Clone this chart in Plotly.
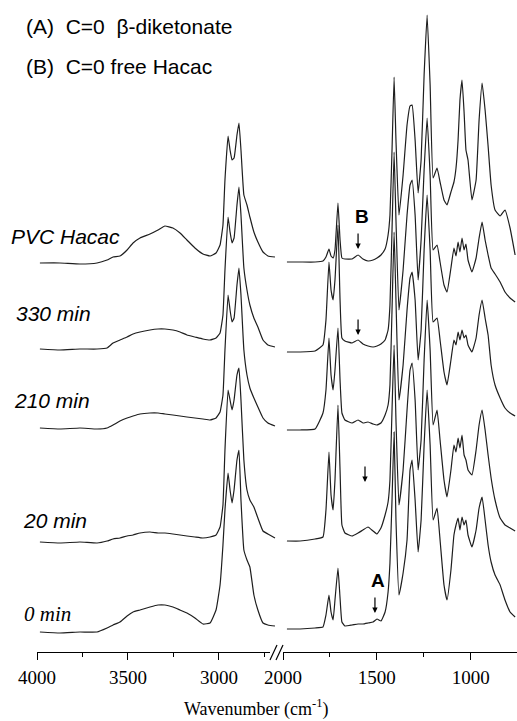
import plotly.graph_objects as go

# ---------------- data (stacked absorbance, arbitrary units) ----------------
wn_left = [3984, 3874, 3764, 3670, 3615, 3582, 3544, 3505, 3472, 3434,
           3379, 3335, 3297, 3253, 3214, 3176, 3132, 3088, 3049, 3016,
           2994, 2978, 2967, 2950, 2939, 2928, 2917, 2901, 2890, 2879,
           2863, 2846, 2830, 2808, 2786, 2758, 2731, 2692]

wn_right = [1979, 1909, 1829, 1787, 1771, 1755, 1744, 1733, 1723, 1707,
            1696, 1686, 1670, 1632, 1600, 1574, 1547, 1520, 1499, 1478,
            1456, 1440, 1430, 1419, 1408, 1398, 1382, 1360, 1339, 1323,
            1312, 1296, 1280, 1264, 1248, 1232, 1216, 1200, 1179, 1163,
            1142, 1126, 1105, 1089, 1078, 1067, 1057, 1046, 1035, 1025,
            1014, 993, 971, 955, 939, 923, 907, 891, 870, 843,
            817, 790, 763]

pvc_left = [389, 389, 388, 389, 392, 395, 396, 402, 409, 414,
            418, 422, 426, 424, 419, 412, 404, 398, 396, 399,
            407, 427, 472, 516, 502, 492, 494, 517, 529, 502,
            457, 447, 435, 420, 410, 400, 396, 395]
m330_left = [303, 302, 303, 303, 304, 309, 312, 315, 318, 320,
             322, 323, 323, 322, 320, 317, 315, 313, 312, 314,
             319, 337, 382, 435, 420, 409, 414, 447, 465, 437,
             384, 362, 347, 334, 325, 312, 307, 305]
m210_left = [224, 223, 224, 223, 224, 227, 231, 234, 236, 238,
             239, 239, 238, 237, 236, 235, 234, 233, 232, 234,
             240, 257, 302, 357, 342, 330, 334, 367, 384, 357,
             302, 277, 264, 254, 245, 234, 229, 226]
m20_left = [110, 109, 110, 109, 111, 113, 114, 116, 117, 119,
            120, 119, 119, 118, 117, 116, 115, 114, 115, 117,
            125, 147, 202, 262, 252, 242, 252, 277, 284, 252,
            192, 162, 152, 145, 134, 121, 118, 114]
m0_left = [20, 19, 20, 20, 24, 27, 30, 36, 40, 42,
           45, 47, 47, 45, 42, 39, 34, 28, 29, 42,
           67, 107, 142, 179, 162, 149, 162, 192, 202, 152,
           102, 92, 85, 57, 42, 29, 27, 26]

pvc_right = [390, 390, 390, 391, 395, 403, 396, 394, 402, 449,
             412, 394, 393, 393, 397, 393, 391, 392, 394, 397,
             403, 417, 437, 502, 575, 512, 437, 477, 527, 546,
             547, 512, 459, 492, 577, 637, 567, 474, 484, 470,
             452, 447, 460, 470, 484, 512, 552, 572, 540, 502,
             492, 452, 472, 532, 569, 542, 506, 467, 442, 436,
             442, 424, 397]
m330_right = [300, 300, 301, 307, 332, 390, 362, 352, 372, 427,
              352, 314, 311, 309, 312, 308, 306, 305, 306, 308,
              312, 322, 347, 422, 500, 432, 342, 382, 437, 467,
              472, 437, 372, 412, 482, 534, 477, 402, 407, 390,
              367, 360, 384, 404, 396, 410, 400, 414, 402, 408,
              392, 380, 394, 414, 430, 412, 397, 384, 378, 370,
              360, 354, 350]
m210_right = [222, 222, 223, 239, 262, 314, 277, 262, 282, 324,
              272, 239, 232, 229, 232, 229, 230, 228, 227, 229,
              237, 247, 267, 342, 420, 352, 252, 287, 342, 374,
              380, 352, 292, 322, 402, 457, 402, 330, 334, 312,
              280, 267, 292, 312, 307, 320, 312, 322, 314, 317,
              307, 300, 314, 337, 352, 334, 317, 287, 267, 254,
              244, 239, 236]
m20_right = [111, 111, 113, 115, 142, 200, 157, 142, 172, 247,
             182, 127, 119, 116, 119, 122, 125, 121, 118, 124,
             137, 150, 172, 242, 307, 232, 147, 182, 242, 282,
             289, 252, 182, 212, 292, 352, 302, 227, 242, 212,
             172, 155, 182, 207, 200, 214, 204, 217, 197, 192,
             182, 177, 202, 227, 242, 222, 197, 174, 152, 134,
             127, 124, 121]
m0_right = [23, 23, 24, 25, 37, 57, 40, 32, 52, 84,
            54, 30, 26, 27, 28, 28, 29, 30, 33, 31,
            40, 60, 89, 152, 220, 132, 57, 79, 112, 182,
            192, 152, 100, 132, 207, 262, 207, 132, 144, 112,
            67, 52, 82, 117, 127, 134, 122, 135, 127, 132,
            117, 105, 122, 144, 155, 132, 107, 90, 77, 67,
            52, 40, 35]

trace_labels = ["PVC Hacac", "330 min", "210 min", "20 min", "0 min"]
left_series = [pvc_left, m330_left, m210_left, m20_left, m0_left]
right_series = [pvc_right, m330_right, m210_right, m20_right, m0_right]

left_major = [4000, 3500, 3000]
left_minor = [3750, 3250, 2750]
right_major = [2000, 1500, 1000]
right_minor = [1750, 1250]

legend_lines = ["(A)\u00a0\u00a0C=0\u00a0\u00a0\u03b2-diketonate", "(B)\u00a0\u00a0C=0 free Hacac"]

# ---------------- figure ----------------
LINE = dict(color="#1e1e1e", width=1.2, shape="spline", smoothing=0.35)
fig = go.Figure()
for name, ys in zip(trace_labels, left_series):
    fig.add_trace(go.Scatter(x=wn_left, y=ys, mode="lines", line=LINE,
                             xaxis="x", yaxis="y", name=name, hoverinfo="skip"))
for name, ys in zip(trace_labels, right_series):
    fig.add_trace(go.Scatter(x=wn_right, y=ys, mode="lines", line=LINE,
                             xaxis="x2", yaxis="y", name=name, hoverinfo="skip"))

SERIF = "Liberation Serif, Times New Roman, serif"
SANS = "Liberation Sans, Arial, sans-serif"

axis_common = dict(showline=True, linecolor="black", linewidth=1.2,
                   ticks="outside", ticklen=7, tickwidth=1.2, tickcolor="black",
                   showgrid=False, zeroline=False, tickmode="array",
                   tickfont=dict(family=SERIF, size=19, color="black"),
                   ticklabelstandoff=1)

fig.update_layout(
    width=517, height=721,
    margin=dict(l=37, r=0, t=0, b=69),
    paper_bgcolor="white", plot_bgcolor="white",
    showlegend=False,
    font=dict(family=SANS, color="black"),
    xaxis=dict(domain=[0, 242 / 480], range=[4000, 2670], anchor="y",
               tickvals=left_major, ticktext=[str(v) for v in left_major],
               minor=dict(tickvals=left_minor, ticks="outside", ticklen=4,
                          tickwidth=1.2, tickcolor="black", showgrid=False),
               **axis_common),
    xaxis2=dict(domain=[246 / 480, 1], range=[2000, 753], anchor="y",
                tickvals=right_major, ticktext=[str(v) for v in right_major],
                minor=dict(tickvals=right_minor, ticks="outside", ticklen=4,
                           tickwidth=1.2, tickcolor="black", showgrid=False),
                **axis_common),
    yaxis=dict(range=[0, 652], visible=False, domain=[0, 1]),
)

def px(xp):
    return (xp - 37) / 480.0

def py(yp):
    return (652 - yp) / 652.0

# axis break
fig.add_shape(type="rect", xref="paper", yref="paper",
              x0=px(270), x1=px(282), y0=py(656), y1=py(648),
              fillcolor="white", line=dict(width=0), layer="above")
for x_start in (270, 276):
    fig.add_shape(type="line", xref="paper", yref="paper",
                  x0=px(x_start), y0=py(660), x1=px(x_start + 7), y1=py(645),
                  line=dict(color="black", width=1.2), layer="above")

ann = []
# header lines
for text, yp in zip(legend_lines, (27, 67)):
    ann.append(dict(text=text, xref="paper", yref="paper", x=px(24), y=py(yp),
                    xanchor="left", yanchor="middle", showarrow=False,
                    font=dict(family=SANS, size=21, color="black")))
# trace labels
label_pos = [(9, 236), (14, 313), (12, 400), (21, 520), (22, 614)]
for name, (xl, yl) in zip(trace_labels, label_pos):
    fam = SERIF if name == "0 min" else SANS
    ann.append(dict(text="<i>%s</i>" % name, xref="paper", yref="paper",
                    x=px(xl), y=py(yl), xanchor="left", yanchor="middle",
                    showarrow=False, font=dict(family=fam, size=21, color="black")))

# arrows
i1600 = wn_right.index(1600)
i1547 = wn_right.index(1547)
i1499 = wn_right.index(1499)
arrow_specs = [
    (1600, pvc_right[i1600] + 6),
    (1600, m330_right[i1600] + 5),
    (1563, m20_right[i1547] + 45),
    (1510, m0_right[i1499] + 6),
]
for xa, ya in arrow_specs:
    ann.append(dict(text="", xref="x2", yref="y", x=xa, y=ya, ax=0, ay=-17,
                    showarrow=True, arrowhead=2, arrowsize=0.9, arrowwidth=1.2,
                    arrowcolor="black"))
ann.append(dict(text="<b>B</b>", xref="x2", yref="y", x=1579, y=pvc_right[i1600] + 39,
                showarrow=False, font=dict(family=SANS, size=19, color="black")))
ann.append(dict(text="<b>A</b>", xref="x2", yref="y", x=1496, y=m0_right[i1499] + 39,
                showarrow=False, font=dict(family=SANS, size=19, color="black")))

# axis title
ann.append(dict(text="Wavenumber (cm<sup>-1</sup>)", xref="paper", yref="paper",
                x=px(256), y=py(708), xanchor="center", yanchor="middle",
                showarrow=False, font=dict(family=SERIF, size=18, color="black")))

fig.update_layout(annotations=ann)
fig.write_html("out.html")
